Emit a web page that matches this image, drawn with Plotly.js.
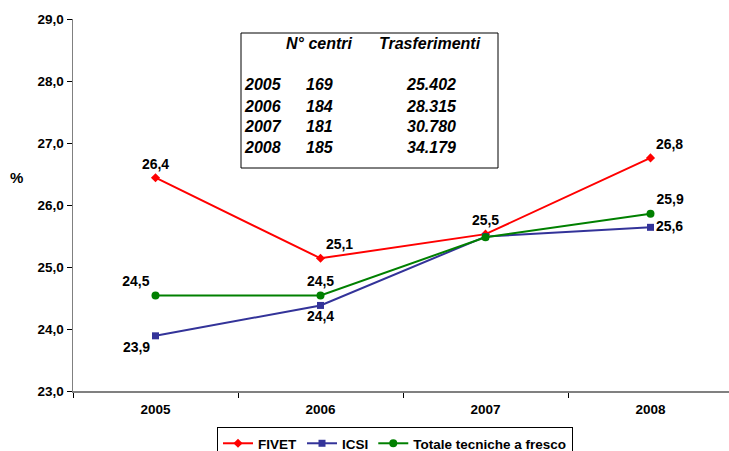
<!DOCTYPE html>
<html>
<head>
<meta charset="utf-8">
<script src="https://cdn.plot.ly/plotly-3.0.1.min.js"></script>
<style>html,body{margin:0;padding:0;background:#fff}#chart{width:729px;height:451px}</style>
</head>
<body>
<div id="chart"></div>
<script>
// ---- data ----
const years = ['2005', '2006', '2007', '2008'];
const fivet = [26.44, 25.14, 25.53, 26.76];
const icsi = [23.89, 24.38, 25.49, 25.64];
const totale = [24.54, 24.54, 25.48, 25.86];
const seriesNames = ['FIVET', 'ICSI', 'Totale tecniche a fresco'];
// which points carry a data label
const fivetShow = [true, true, true, true];
const icsiShow = [true, true, false, true];
const totaleShow = [true, true, false, true];
// inset table
const tableHeader = ['N° centri', 'Trasferimenti'];
const tableYears = ['2005', '2006', '2007', '2008'];
const tableCentri = ['169', '184', '181', '185'];
const tableTrasf = ['25.402', '28.315', '30.780', '34.179'];

// ---- layout helpers ----
const W = 729, H = 451;
const mL = 73, mR = 0, mT = 19, mB = 60;
const pw = W - mL - mR, ph = H - mT - mB;
const px = x => (x - mL) / pw;
const py = y => (H - mB - y) / ph;
const fmt = v => v.toFixed(1).replace('.', ',');
const lbl = (arr, show) => arr.map((v, i) => show[i] ? fmt(v) : '');

const FAM = 'Liberation Sans, Arial, sans-serif';
const labelFont = {family: FAM, size: 14, color: '#000', weight: 'bold'};

const traces = [
  {
    x: years, y: fivet, name: seriesNames[0], type: 'scatter', mode: 'lines+markers+text',
    line: {color: '#FF0000', width: 2},
    marker: {symbol: 'diamond', size: 7, color: '#FF0000'},
    text: lbl(fivet, fivetShow),
    textposition: ['top center', 'top right', 'top center', 'top right'],
    textfont: labelFont, cliponaxis: false, hoverinfo: 'skip'
  },
  {
    x: years, y: icsi, name: seriesNames[1], type: 'scatter', mode: 'lines+markers+text',
    line: {color: '#333399', width: 2},
    marker: {symbol: 'square', size: 7, color: '#333399'},
    text: lbl(icsi, icsiShow),
    textposition: ['bottom left', 'bottom center', 'middle right', 'middle right'],
    textfont: labelFont, cliponaxis: false, hoverinfo: 'skip'
  },
  {
    x: years, y: totale, name: seriesNames[2], type: 'scatter', mode: 'lines+markers+text',
    line: {color: '#008000', width: 2},
    marker: {symbol: 'circle', size: 8, color: '#008000'},
    text: lbl(totale, totaleShow),
    textposition: ['top left', 'top center', 'top center', 'top right'],
    textfont: labelFont, cliponaxis: false, hoverinfo: 'skip'
  }
];

const tFont = {family: FAM, size: 16, color: '#000', weight: 'bold', style: 'italic'};
const annotations = [];
annotations.push({xref: 'paper', yref: 'paper', x: px(319), y: py(43), text: tableHeader[0], showarrow: false, font: tFont, xanchor: 'center', yanchor: 'middle'});
annotations.push({xref: 'paper', yref: 'paper', x: px(430), y: py(43), text: tableHeader[1], showarrow: false, font: tFont, xanchor: 'center', yanchor: 'middle'});
const rowY = [85, 106, 127, 147];
tableYears.forEach((yr, i) => {
  annotations.push({xref: 'paper', yref: 'paper', x: px(242), y: py(rowY[i]), text: tableYears[i], showarrow: false, font: tFont, xanchor: 'left', yanchor: 'middle'});
  annotations.push({xref: 'paper', yref: 'paper', x: px(304), y: py(rowY[i]), text: tableCentri[i], showarrow: false, font: tFont, xanchor: 'left', yanchor: 'middle'});
  annotations.push({xref: 'paper', yref: 'paper', x: px(431), y: py(rowY[i]), text: tableTrasf[i], showarrow: false, font: tFont, xanchor: 'center', yanchor: 'middle'});
});
annotations.push({xref: 'paper', yref: 'paper', x: px(17), y: py(178), text: '%', showarrow: false,
  font: {family: FAM, size: 15, color: '#000', weight: 'bold'}, xanchor: 'center', yanchor: 'middle'});

const tickFont = {family: FAM, size: 13.5, color: '#000', weight: 'bold'};

const layout = {
  width: W, height: H,
  margin: {l: mL, r: mR, t: mT, b: mB, pad: 0, autoexpand: false},
  paper_bgcolor: '#fff', plot_bgcolor: '#fff',
  showlegend: true,
  legend: {
    orientation: 'h', x: px(217), y: py(427), xanchor: 'left', yanchor: 'top',
    bordercolor: '#000', borderwidth: 1, bgcolor: '#fff',
    font: {family: FAM, size: 13.5, color: '#000', weight: 'bold'},
    tracegroupgap: 0, itemwidth: 30
  },
  xaxis: {
    type: 'category', range: [-0.5, 3.5 - 4 / 165],
    showgrid: false, zeroline: false,
    showline: true, linecolor: '#808080', linewidth: 1.5,
    ticks: 'outside', tickson: 'boundaries', ticklen: 5, tickcolor: '#000', tickwidth: 1,
    ticklabelstandoff: 5,
    tickfont: tickFont, fixedrange: true
  },
  yaxis: {
    range: [23, 29], dtick: 1, tickformat: '.1f',
    showgrid: false, zeroline: false,
    showline: true, linecolor: '#808080', linewidth: 1.5,
    ticks: 'outside', ticklen: 5, tickcolor: '#000', tickwidth: 1,
    tickfont: tickFont, fixedrange: true
  },
  separators: ',.',
  shapes: [
    {type: 'rect', xref: 'paper', yref: 'paper', x0: px(241), x1: px(498), y0: py(168), y1: py(33),
     line: {color: '#000', width: 1}, fillcolor: 'rgba(0,0,0,0)'}
  ],
  annotations: annotations
};

Plotly.newPlot('chart', traces, layout, {staticPlot: true, displayModeBar: false});
</script>
</body>
</html>
